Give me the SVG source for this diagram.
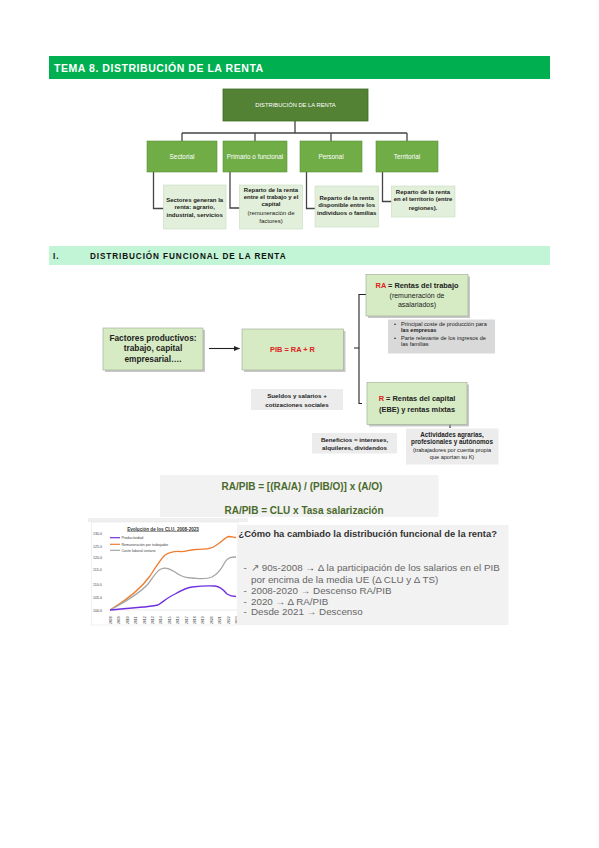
<svg xmlns="http://www.w3.org/2000/svg" width="599" height="848" viewBox="0 0 599 848">
<style>
text{font-family:"Liberation Sans",Arial,sans-serif}
.hdr{fill:#fff;font-weight:bold;font-size:10.5px;letter-spacing:0.55px}
.sec{fill:#111;font-weight:bold;font-size:8.2px;letter-spacing:0.9px}
.top{fill:#548235;stroke:#3d6a24;stroke-width:0.8}
.child{fill:#70AD47;stroke:#5a9238;stroke-width:0.6}
.sub{fill:#E2EFDA;stroke:#c9d9bf;stroke-width:0.6}
.wt{fill:#fff;font-size:6.4px;text-anchor:middle}
.st{fill:#222;font-size:6px;font-weight:bold;text-anchor:middle}
.tree{fill:none;stroke:#444;stroke-width:1.3}
.gbox{fill:#D6EBC4;stroke:#9aa78f;stroke-width:0.6}
.shadow{fill:#9a9a9a;opacity:0.55}
.bt{font-weight:bold;font-size:8.3px;fill:#222;text-anchor:middle}
.red{fill:#E02020}
.note{fill:#ECECEC}
.nt{font-size:6.2px;fill:#222;text-anchor:middle;font-weight:bold}
.nn{font-size:5.6px;fill:#222;text-anchor:start}
.line{fill:none;stroke:#222;stroke-width:1.1}
.fm{font-weight:bold;font-size:10px;fill:#4A6A2A;text-anchor:middle}
.q{font-size:9.8px;fill:#666}
.ax{font-size:3.6px;fill:#444}
</style>
<defs>
<marker id="ah" viewBox="0 0 10 10" refX="9" refY="5" markerWidth="6" markerHeight="6" orient="auto"><path d="M0,1 L10,5 L0,9 z" fill="#222"/></marker>
<marker id="ahs" viewBox="0 0 10 10" refX="9" refY="5" markerWidth="4" markerHeight="4" orient="auto"><path d="M0,1 L10,5 L0,9 z" fill="#222"/></marker>
</defs>
<rect width="599" height="848" fill="#fff"/>

<g id="header">
<rect x="49" y="56" width="501" height="23" fill="#00B050"/>
<text class="hdr" x="54" y="72">TEMA 8. DISTRIBUCIÓN DE LA RENTA</text>
</g>

<g id="tree-connectors">
<path class="tree" d="M295,121 V133 M182,133 H407 M182,133 V141 M255,133 V141 M331,133 V141 M407,133 V141"/>
<path class="tree" d="M153.5,172 V208.5 H163.5 M230,172 V208 H239.5 M306.5,172 V208.5 H315 M382.5,172 V201.5 H391.5"/>
</g>

<g id="n-distribucion">
<rect class="top" x="223" y="89" width="145" height="32"/>
<text class="wt" x="295.5" y="107" style="font-size:5.8px">DISTRIBUCIÓN DE LA RENTA</text>
</g>
<g id="n-sectorial">
<rect class="child" x="147" y="141" width="70" height="31"/>
<text class="wt" x="182" y="159">Sectorial</text>
</g>
<g id="n-primario">
<rect class="child" x="223" y="141" width="64" height="31"/>
<text class="wt" x="255" y="159">Primario o funcional</text>
</g>
<g id="n-personal">
<rect class="child" x="300" y="141" width="62" height="31"/>
<text class="wt" x="331" y="159">Personal</text>
</g>
<g id="n-territorial">
<rect class="child" x="376" y="141" width="62" height="31"/>
<text class="wt" x="407" y="159">Territorial</text>
</g>
<g id="n-sub1">
<rect class="sub" x="163.5" y="185" width="62.5" height="44"/>
<text class="st" x="194.7" y="202">Sectores generan la</text>
<text class="st" x="194.7" y="209">renta: agrario,</text>
<text class="st" x="194.7" y="216.5">industrial, servicios</text>
</g>
<g id="n-sub2">
<rect class="sub" x="239.5" y="185" width="63" height="44"/>
<text class="st" x="271" y="191.5">Reparto de la renta</text>
<text class="st" x="271" y="198.8">entre el trabajo y el</text>
<text class="st" x="271" y="206.3">capital</text>
<text class="st" x="271" y="215" style="font-weight:normal">(remuneración de</text>
<text class="st" x="271" y="223.3" style="font-weight:normal">factores)</text>
</g>
<g id="n-sub3">
<rect class="sub" x="315" y="186" width="63.5" height="41"/>
<text class="st" x="346.7" y="199.5">Reparto de la renta</text>
<text class="st" x="346.7" y="207">disponible entre los</text>
<text class="st" x="346.7" y="215">individuos o familias</text>
</g>
<g id="n-sub4">
<rect class="sub" x="391.5" y="186" width="63.5" height="31"/>
<text class="st" x="423" y="194">Reparto de la renta</text>
<text class="st" x="423" y="201.3">en el territorio (entre</text>
<text class="st" x="423" y="209.5">regiones).</text>
</g>

<g id="section-I">
<rect x="49" y="246" width="501" height="19" fill="#C2F5D5"/>
<text class="sec" x="53" y="258.5">I.</text>
<text class="sec" x="90" y="258.5">DISTRIBUCIÓN FUNCIONAL DE LA RENTA</text>
</g>

<g id="connectors">
<line class="line" x1="209" y1="348.5" x2="239.5" y2="348.5" marker-end="url(#ah)"/>
<path class="line" d="M366,294.5 H359 V403.5 H362 M354,348 H359"/>
<line class="line" x1="296.7" y1="365" x2="296.7" y2="356" stroke-width="0.6" marker-end="url(#ahs)"/>
<line class="line" x1="387" y1="418" x2="387" y2="413" stroke-width="0.6" marker-end="url(#ahs)"/>
<line class="line" x1="450" y1="428" x2="450" y2="413" stroke-width="0.6" marker-end="url(#ahs)"/>
</g>

<g id="n-factores">
<rect class="shadow" x="105" y="330" width="100" height="42"/>
<rect class="gbox" x="103" y="328" width="100" height="42"/>
<text class="bt" x="153" y="341">Factores productivos:</text>
<text class="bt" x="153" y="351">trabajo, capital</text>
<text class="bt" x="153" y="361.5">empresarial….</text>
</g>
<g id="n-pib">
<rect class="shadow" x="244" y="331" width="101.5" height="41"/>
<rect class="gbox" x="242" y="329" width="101.5" height="41"/>
<text class="bt red" x="292.5" y="352" style="font-size:7.4px">PIB = RA + R</text>
</g>
<g id="n-sueldos">
<rect class="note" x="251" y="389" width="92" height="21"/>
<text class="nt" x="297" y="398">Sueldos y salarios +</text>
<text class="nt" x="297" y="406.5">cotizaciones sociales</text>
</g>
<g id="n-ra">
<rect class="shadow" x="368" y="276.5" width="102" height="41.5"/>
<rect class="gbox" x="366" y="274.5" width="102" height="41.5"/>
<text class="bt" x="417" y="288" style="font-size:7.4px"><tspan class="red">RA</tspan> = Rentas del trabajo</text>
<text class="nt" x="417" y="298" style="font-size:7px;font-weight:normal">(remuneración de</text>
<text class="nt" x="417" y="307" style="font-size:7px;font-weight:normal">asalariados)</text>
</g>
<g id="n-ra-note">
<rect x="388" y="319.5" width="107" height="34" fill="#D9D9D9"/>
<text class="nn" x="394" y="326">•</text>
<text class="nn" x="401" y="326">Principal coste de producción para</text>
<text class="nn" x="401" y="332" font-weight="bold">las empresas</text>
<text class="nn" x="394" y="339.5">•</text>
<text class="nn" x="401" y="339.5">Parte relevante de los ingresos de</text>
<text class="nn" x="401" y="345.5">las familias</text>
</g>
<g id="n-r">
<rect class="shadow" x="369" y="384.5" width="100" height="42"/>
<rect class="gbox" x="367" y="382.5" width="100" height="42"/>
<text class="bt" x="417" y="401" style="font-size:7.4px"><tspan class="red">R</tspan> = Rentas del capital</text>
<text class="bt" x="417" y="412" style="font-size:7.4px">(EBE) y rentas mixtas</text>
</g>
<g id="n-beneficios">
<rect class="note" x="312" y="433" width="85" height="20.5"/>
<text class="nt" x="354.5" y="441.5">Beneficios = intereses,</text>
<text class="nt" x="354.5" y="449.5">alquileres, dividendos</text>
</g>
<g id="n-actividades">
<rect class="note" x="406" y="428.5" width="92.5" height="36"/>
<text class="nt" x="452" y="436.5" style="font-size:6.3px">Actividades agrarias,</text>
<text class="nt" x="452" y="444" style="font-size:6.3px">profesionales y autónomos</text>
<text class="nt" x="452" y="451.5" style="font-weight:normal;font-size:5.6px">(trabajadores por cuenta propia</text>
<text class="nt" x="452" y="458.5" style="font-weight:normal;font-size:5.6px">que aportan su K)</text>
</g>

<g id="formula">
<rect x="160" y="475" width="278.5" height="42" fill="#F2F2F2"/>
<text class="fm" x="302" y="490">RA/PIB = [(RA/A) / (PIB/O)] x (A/O)</text>
<text class="fm" x="304" y="514">RA/PIB = CLU x Tasa salarización</text>
</g>

<g id="chart">
<rect x="88" y="518" width="160" height="4" fill="#EFEFEF"/>
<rect x="91.5" y="522" width="146.5" height="103" fill="#fff" stroke="#ddd" stroke-width="0.4"/>
<text x="163" y="530.5" style="font-size:4.6px;fill:#333;text-anchor:middle;font-weight:bold;text-decoration:underline">Evolución de los CLU, 2008-2023</text>
<g class="ax">
<text x="93" y="535">130.0</text>
<text x="93" y="547.5">125.0</text>
<text x="93" y="559">120.0</text>
<text x="93" y="571">115.0</text>
<text x="93" y="586">110.0</text>
<text x="93" y="599">105.0</text>
<text x="93" y="611.5">100.0</text>
</g>
<line x1="110" y1="610" x2="237" y2="610" stroke="#ccc" stroke-width="0.4"/>
<line x1="110" y1="537.7" x2="120" y2="537.7" stroke="#7030E0" stroke-width="1.2"/>
<text class="ax" x="121.5" y="539">Productividad</text>
<line x1="110" y1="544.3" x2="120" y2="544.3" stroke="#ED7D31" stroke-width="1.2"/>
<text class="ax" x="121.5" y="545.6">Remuneración por trabajador</text>
<line x1="110" y1="550.3" x2="120" y2="550.3" stroke="#A5A5A5" stroke-width="1.2"/>
<text class="ax" x="121.5" y="551.6">Coste laboral unitario</text>
<path d="M110,610 C125,601 140,590 150,576 C155,568 160,560 165,555 C170,552 175,551 180,551.5 C186,552 188,550 195,549.5 C205,548.5 210,550 215,546 C222,542 225,537 229,536.5 C232,536.5 234,537.5 236,537.5" fill="none" stroke="#ED7D31" stroke-width="1.3"/>
<path d="M110,610 C125,602 140,593 148,584 C153,578 156,571 161,569 C166,567 170,569 175,572 C180,576 185,578 192,578 C200,578.5 205,580 212,577 C218,574 222,568 225,562 C228,557 232,557 236,557" fill="none" stroke="#A5A5A5" stroke-width="1.3"/>
<path d="M110,610 C130,608 150,607 158,605 C163,602 168,597 175,594 C182,590 186,588 192,587 C200,586 208,585.5 215,586 C220,586.5 223,589 227,594 C230,596 233,596.5 236,596.5" fill="none" stroke="#7030E0" stroke-width="1.3"/>
<g class="ax" style="font-size:3.4px">
<text transform="translate(112,624) rotate(-90)">2008</text>
<text transform="translate(120.4,624) rotate(-90)">2009</text>
<text transform="translate(128.8,624) rotate(-90)">2010</text>
<text transform="translate(137.2,624) rotate(-90)">2011</text>
<text transform="translate(145.6,624) rotate(-90)">2012</text>
<text transform="translate(154,624) rotate(-90)">2013</text>
<text transform="translate(162.4,624) rotate(-90)">2014</text>
<text transform="translate(170.8,624) rotate(-90)">2015</text>
<text transform="translate(179.2,624) rotate(-90)">2016</text>
<text transform="translate(187.6,624) rotate(-90)">2017</text>
<text transform="translate(196,624) rotate(-90)">2018</text>
<text transform="translate(204.4,624) rotate(-90)">2019</text>
<text transform="translate(212.8,624) rotate(-90)">2020</text>
<text transform="translate(221.2,624) rotate(-90)">2021</text>
<text transform="translate(229.6,624) rotate(-90)">2022</text>
<text transform="translate(238,624) rotate(-90)">2023</text>
</g>
</g>

<g id="cambio">
<rect x="237" y="525" width="271.5" height="100" fill="#F2F2F2"/>
<text x="238.5" y="537" style="font-size:9.4px;font-weight:bold;fill:#333">¿Cómo ha cambiado la distribución funcional de la renta?</text>
<text class="q" x="243.5" y="571">-</text>
<text class="q" x="251" y="571">↗ 90s-2008 <tspan font-weight="bold" fill="#333">→</tspan> Δ la participación de los salarios en el PIB</text>
<text class="q" x="251" y="582.5">por encima de la media UE (Δ CLU y Δ TS)</text>
<text class="q" x="243.5" y="594">-</text>
<text class="q" x="251" y="594">2008-2020 → Descenso RA/PIB</text>
<text class="q" x="243.5" y="604.5">-</text>
<text class="q" x="251" y="604.5">2020 → Δ RA/PIB</text>
<text class="q" x="243.5" y="615">-</text>
<text class="q" x="251" y="615">Desde 2021 → Descenso</text>
</g>
</svg>
